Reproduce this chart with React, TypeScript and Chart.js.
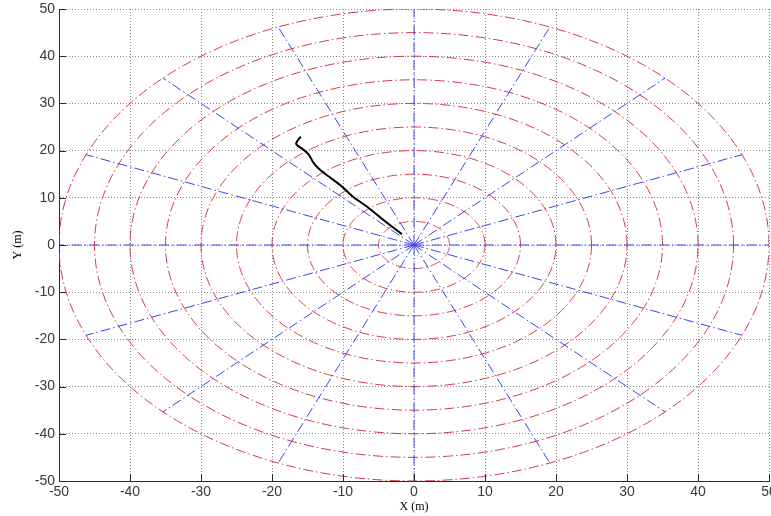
import React, { useEffect, useRef } from 'react';
import { Chart, registerables } from 'chart.js';

Chart.register(...registerables);

const xTicks = [-50, -40, -30, -20, -10, 0, 10, 20, 30, 40, 50];
const yTicks = [-50, -40, -30, -20, -10, 0, 10, 20, 30, 40, 50];
const circleRadii = [5, 10, 15, 20, 25, 30, 35, 40, 45, 50];
const spokeAnglesDeg = [0, 22.5, 45, 67.5, 90, 112.5, 135, 157.5, 180, 202.5, 225, 247.5, 270, 292.5, 315, 337.5];
const spokeLength = 50;
const trajX = [-1.7, -4.3, -6.6, -8.5, -10.4, -12.0, -13.2, -14.1, -14.8, -15.5, -16.5, -16.6, -16.4, -16.1, -15.9];
const trajY = [2.3, 5.3, 8.1, 10.1, 12.7, 14.5, 15.9, 17.3, 19.1, 20.1, 21.2, 21.5, 22.1, 22.7, 22.9];

const RED = '#d23a48';
const BLUE = '#4040f0';
const AXIS = '#2a2a2a';
const LABEL = '#3a3a3a';
const DASH = [10, 3, 1.5, 3];

function circlePoints(r: number) {
  const pts: { x: number; y: number }[] = [];
  const n = 240;
  for (let i = 0; i <= n; i++) {
    const a = (i / n) * Math.PI * 2;
    pts.push({ x: r * Math.cos(a), y: r * Math.sin(a) });
  }
  return pts;
}

const inwardTicks = {
  id: 'inwardTicks',
  afterDatasetsDraw(chart: any) {
    const { ctx, chartArea, scales } = chart;
    const xs = scales.x;
    const ys = scales.y;
    ctx.save();
    ctx.strokeStyle = AXIS;
    ctx.lineWidth = 1;
    ctx.setLineDash([]);
    ctx.beginPath();
    xTicks.forEach((v) => {
      const px = Math.round(xs.getPixelForValue(v)) + 0.5;
      ctx.moveTo(px, chartArea.bottom);
      ctx.lineTo(px, chartArea.bottom - 7);
    });
    yTicks.forEach((v) => {
      const py = Math.round(ys.getPixelForValue(v)) + 0.5;
      ctx.moveTo(chartArea.left, py);
      ctx.lineTo(chartArea.left + 7, py);
    });
    ctx.stroke();
    ctx.restore();
  },
};

export default function App() {
  const ref = useRef<HTMLCanvasElement | null>(null);

  useEffect(() => {
    if (!ref.current) return;
    const datasets: any[] = [];
    datasets.push({
      label: 'trajectory',
      data: trajX.map((x, i) => ({ x, y: trajY[i] })),
      showLine: true,
      borderColor: '#000000',
      borderWidth: 2,
      pointRadius: 0,
      tension: 0.3,
    });
    spokeAnglesDeg.forEach((deg) => {
      const a = (deg * Math.PI) / 180;
      datasets.push({
        label: 'spoke' + deg,
        data: [
          { x: 0, y: 0 },
          { x: spokeLength * Math.cos(a), y: spokeLength * Math.sin(a) },
        ],
        showLine: true,
        borderColor: BLUE,
        borderWidth: 1,
        borderDash: DASH,
        pointRadius: 0,
      });
    });
    circleRadii.forEach((r) => {
      datasets.push({
        label: 'circle' + r,
        data: circlePoints(r),
        showLine: true,
        borderColor: RED,
        borderWidth: 1,
        borderDash: DASH,
        pointRadius: 0,
      });
    });

    const chart = new Chart(ref.current, {
      type: 'scatter',
      data: { datasets },
      plugins: [inwardTicks],
      options: {
        animation: false,
        responsive: false,
        maintainAspectRatio: false,
        layout: { padding: { top: 9, right: 2, left: 0, bottom: 0 } },
        plugins: { legend: { display: false }, tooltip: { enabled: false } },
        scales: {
          x: {
            type: 'linear',
            min: -50,
            max: 50,
            afterBuildTicks: (s: any) => {
              s.ticks = xTicks.map((v) => ({ value: v }));
            },
            afterFit: (s: any) => {
              s.height = 35;
              s.paddingLeft = 0;
              s.paddingRight = 0;
            },
            ticks: {
              autoSkip: false,
              maxRotation: 0,
              padding: 3,
              color: LABEL,
              font: { family: 'Liberation Sans', size: 14 },
            },
            grid: { color: '#8a8a8a', lineWidth: 1, drawTicks: false },
            border: { display: true, color: AXIS, width: 1, dash: [1, 2] },
            title: {
              display: true,
              text: 'X (m)',
              color: '#000',
              font: { family: 'Liberation Serif', size: 12 },
              padding: { top: 0, bottom: 2 },
            },
          },
          y: {
            type: 'linear',
            min: -50,
            max: 50,
            afterBuildTicks: (s: any) => {
              s.ticks = yTicks.map((v) => ({ value: v }));
            },
            afterFit: (s: any) => {
              s.width = 59;
              s.paddingTop = 0;
              s.paddingBottom = 0;
            },
            ticks: {
              autoSkip: false,
              padding: 4,
              color: LABEL,
              font: { family: 'Liberation Sans', size: 14 },
            },
            grid: { color: '#8a8a8a', lineWidth: 1, drawTicks: false },
            border: { display: true, color: AXIS, width: 1, dash: [1, 2] },
            title: {
              display: true,
              text: 'Y (m)',
              color: '#000',
              font: { family: 'Liberation Serif', size: 12 },
              padding: { top: 11, bottom: 0 },
            },
          },
        },
      },
    });
    return () => chart.destroy();
  }, []);

  return (
    <div style={{ position: 'fixed', left: 0, top: 0, width: 771, height: 516, background: '#fff' }}>
      <canvas ref={ref} width={771} height={516} style={{ width: 771, height: 516, display: 'block' }} />
    </div>
  );
}
